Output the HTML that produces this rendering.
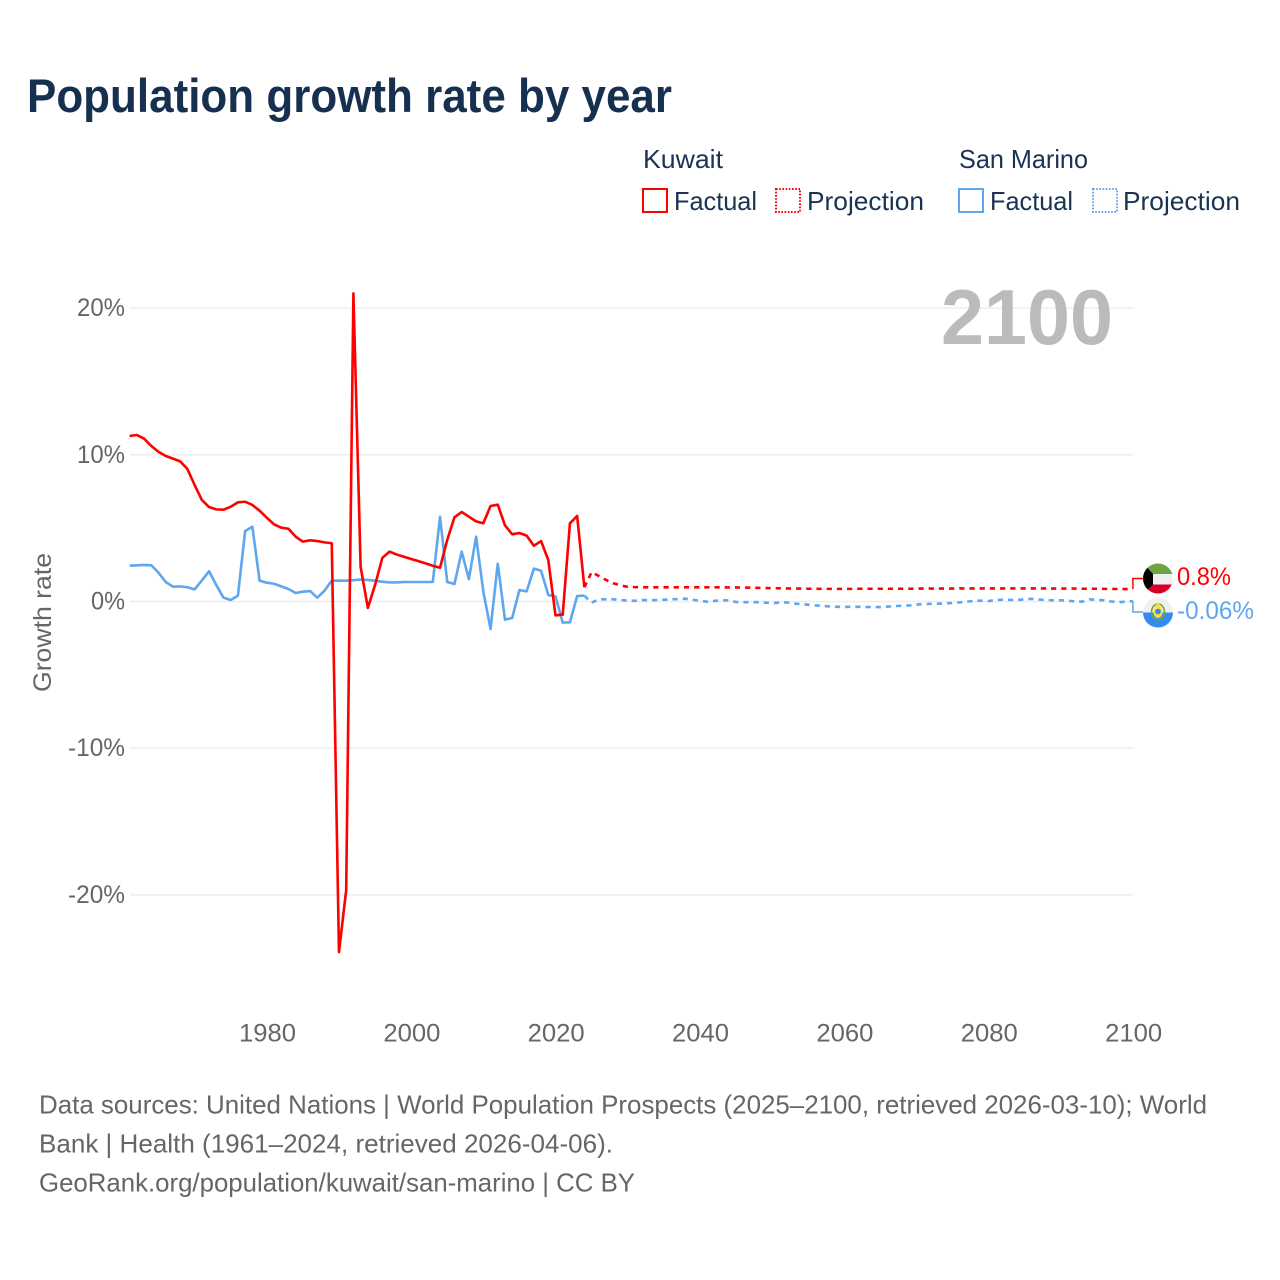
<!DOCTYPE html>
<html lang="en">
<head>
<meta charset="utf-8">
<title>Population growth rate by year</title>
<style>
html,body{margin:0;padding:0;background:#fff;}
svg{display:block;}
text{font-family:"Liberation Sans",sans-serif;}
</style>
</head>
<body>
<svg id="chart" xmlns="http://www.w3.org/2000/svg" width="1280" height="1280" viewBox="0 0 1280 1280">
  <rect width="1280" height="1280" fill="#ffffff"/>
  <text x="27" y="112" font-size="47" font-weight="700" fill="#17304f" textLength="645" lengthAdjust="spacingAndGlyphs">Population growth rate by year</text>

  <g font-size="26" fill="#1a3352">
    <text x="643" y="168" textLength="80" lengthAdjust="spacingAndGlyphs">Kuwait</text>
    <text x="959" y="168" textLength="129" lengthAdjust="spacingAndGlyphs">San Marino</text>
    <rect x="643" y="189" width="24" height="23" fill="none" stroke="#ff0000" stroke-width="2"/>
    <text x="674" y="210" textLength="83" lengthAdjust="spacingAndGlyphs">Factual</text>
    <rect x="776" y="189" width="24" height="23" fill="none" stroke="#ff0000" stroke-width="2" stroke-dasharray="1.6 1.6"/>
    <text x="807" y="210" textLength="117" lengthAdjust="spacingAndGlyphs">Projection</text>
    <rect x="959" y="189" width="24" height="23" fill="none" stroke="#5ea6ee" stroke-width="2"/>
    <text x="990" y="210" textLength="83" lengthAdjust="spacingAndGlyphs">Factual</text>
    <rect x="1093" y="189" width="24" height="23" fill="none" stroke="#5ea6ee" stroke-width="2" stroke-dasharray="1.6 1.6"/>
    <text x="1123" y="210" textLength="117" lengthAdjust="spacingAndGlyphs">Projection</text>
  </g>

  <g id="grid"></g>
  <g id="yticks" font-size="25" fill="#666666"></g>
  <g id="xticks" font-size="25" fill="#666666"></g>
  <text transform="translate(51 622.5) rotate(-90)" text-anchor="middle" font-size="25" fill="#666666" textLength="139" lengthAdjust="spacingAndGlyphs">Growth rate</text>

  <text x="941" y="344" font-size="78" font-weight="700" fill="#bbbbbb" textLength="172" lengthAdjust="spacingAndGlyphs">2100</text>

  <g id="series"></g>
  <g id="connectors"></g>

  <defs>
    <clipPath id="clip-kw"><circle cx="1158" cy="578.5" r="15"/></clipPath>
    <clipPath id="clip-sm"><circle cx="1158" cy="612.5" r="15"/></clipPath>
  </defs>
  <g clip-path="url(#clip-kw)">
    <rect x="1143" y="563" width="30" height="11" fill="#6da544"/>
    <rect x="1143" y="574" width="30" height="10.5" fill="#f0f0f0"/>
    <rect x="1143" y="584.5" width="30" height="10" fill="#d80027"/>
    <polygon points="1143,563 1143,594 1153,584.5 1153,574" fill="#000000"/>
  </g>
  <g clip-path="url(#clip-sm)">
    <rect x="1143" y="597" width="30" height="15.5" fill="#f0f0f0"/>
    <rect x="1143" y="612.5" width="30" height="15.5" fill="#338af3"/>
    <ellipse cx="1158" cy="612" rx="6.5" ry="8" fill="none" stroke="#6da544" stroke-width="1.6"/>
    <ellipse cx="1158" cy="612" rx="4.6" ry="6" fill="#ffda44"/>
    <circle cx="1158" cy="611.5" r="2.8" fill="#338af3"/>
    <polygon points="1158,602 1161,606.5 1155,606.5" fill="#ffda44"/>
  </g>

  <text id="label-kw" x="1177" y="585" font-size="25" fill="#ff0000" textLength="54" lengthAdjust="spacingAndGlyphs"></text>
  <text id="label-sm" x="1177" y="619" font-size="25" fill="#5ea6ee" textLength="77" lengthAdjust="spacingAndGlyphs"></text>

  <g font-size="26" fill="#666666">
    <text x="39" y="1113.5" textLength="1168" lengthAdjust="spacingAndGlyphs">Data sources: United Nations | World Population Prospects (2025–2100, retrieved 2026-03-10); World</text>
    <text x="39" y="1152.5" textLength="574" lengthAdjust="spacingAndGlyphs">Bank | Health (1961–2024, retrieved 2026-04-06).</text>
    <text x="39" y="1191.5" textLength="596" lengthAdjust="spacingAndGlyphs">GeoRank.org/population/kuwait/san-marino | CC BY</text>
  </g>
</svg>

<script>
const factualStartYear = 1961;
const projectionStartYear = 2024;
const xTickYears = [1980, 2000, 2020, 2040, 2060, 2080, 2100];
const yTickValues = [20, 10, 0, -10, -20];
const kuwaitFactual = [
  11.28, 11.35, 11.1, 10.6, 10.2, 9.92, 9.74, 9.55, 9.03, 7.94,
  6.92, 6.44, 6.28, 6.26, 6.46, 6.76, 6.8, 6.58, 6.19, 5.71,
  5.26, 5.03, 4.96, 4.42, 4.08, 4.17, 4.12, 4.03, 3.97, -23.9,
  -19.67, 21.0, 2.35, -0.44, 1.12, 2.97, 3.4, 3.2, 3.05, 2.9,
  2.75, 2.6, 2.44, 2.3, 4.2, 5.74, 6.1, 5.78, 5.46, 5.33,
  6.51, 6.6, 5.19, 4.58, 4.67, 4.49, 3.8, 4.12, 2.83, -0.94,
  -0.9, 5.33, 5.83, 0.97
];
const sanMarinoFactual = [
  2.44, 2.47, 2.49, 2.47, 1.96, 1.33, 1.01, 1.03, 0.97, 0.83,
  1.44, 2.06, 1.12, 0.26, 0.1, 0.4, 4.8, 5.1, 1.42, 1.28,
  1.21, 1.03, 0.85, 0.58, 0.67, 0.71, 0.26, 0.74, 1.42, 1.43,
  1.42, 1.45, 1.5, 1.47, 1.42, 1.35, 1.3, 1.3, 1.33, 1.33,
  1.33, 1.33, 1.33, 5.78, 1.33, 1.19, 3.4, 1.53, 4.42, 0.67,
  -1.87, 2.58, -1.24, -1.12, 0.78, 0.69, 2.24, 2.1, 0.44, 0.35,
  -1.44, -1.42, 0.37, 0.4
];
const kuwaitProjection = [
  0.97, 2.0, 1.74, 1.47, 1.24, 1.1, 1.0, 0.98, 0.97, 0.97,
  0.97, 0.97, 0.97, 0.97, 0.97, 0.97, 0.97, 0.97, 0.97, 0.97,
  0.96, 0.96, 0.95, 0.94, 0.93, 0.92, 0.91, 0.9, 0.89, 0.88,
  0.88, 0.87, 0.87, 0.86, 0.86, 0.86, 0.86, 0.86, 0.87, 0.87,
  0.87, 0.87, 0.87, 0.87, 0.87, 0.87, 0.88, 0.88, 0.88, 0.88,
  0.88, 0.88, 0.89, 0.89, 0.89, 0.89, 0.89, 0.89, 0.89, 0.89,
  0.89, 0.89, 0.89, 0.89, 0.89, 0.88, 0.88, 0.88, 0.88, 0.87,
  0.87, 0.87, 0.86, 0.86, 0.85, 0.85, 0.85
];
const sanMarinoProjection = [
  0.4, -0.08, 0.15, 0.15, 0.15, 0.1, 0.06, 0.05, 0.1, 0.08,
  0.1, 0.12, 0.15, 0.17, 0.19, 0.12, 0.05, -0.01, 0.04, 0.09,
  0.07, -0.03, -0.05, -0.05, -0.05, -0.08, -0.1, -0.08, -0.06, -0.14,
  -0.18, -0.22, -0.27, -0.3, -0.34, -0.36, -0.37, -0.36, -0.36, -0.37,
  -0.38, -0.38, -0.35, -0.31, -0.29, -0.27, -0.21, -0.18, -0.16, -0.15,
  -0.13, -0.1, -0.06, -0.01, 0.04, 0.06, 0.03, 0.1, 0.12, 0.11,
  0.1, 0.15, 0.18, 0.13, 0.1, 0.08, 0.08, 0.06, 0.0, -0.01,
  0.15, 0.11, 0.08, 0.0, -0.04, -0.02, 0.03
];
const kuwaitLabel = "0.8%";
const sanMarinoLabel = "-0.06%";

const NS = "http://www.w3.org/2000/svg";
const RED = "#ff0000";
const BLUE = "#5ea6ee";

function xScale(year) {
  return 266.8 + (year - 1980) * 7.2175;
}
function yScale(value) {
  return 601.5 - value * 14.67;
}
function toPoints(values, startYear) {
  return values.map(function (v, i) {
    return xScale(startYear + i).toFixed(2) + "," + yScale(v).toFixed(2);
  }).join(" ");
}
function make(tag, attrs, parent) {
  const el = document.createElementNS(NS, tag);
  Object.keys(attrs).forEach(function (k) { el.setAttribute(k, attrs[k]); });
  parent.appendChild(el);
  return el;
}
function drawLine(values, startYear, color, dashed, name) {
  const attrs = { points: toPoints(values, startYear), fill: "none", stroke: color, "stroke-width": 2.6, "stroke-linejoin": "round" };
  if (dashed) { attrs["stroke-dasharray"] = "5.2 5"; }
  const el = make("polyline", attrs, document.getElementById("series"));
  
  
  return el;
}

const gridGroup = document.getElementById("grid");
const yTickGroup = document.getElementById("yticks");
yTickValues.forEach(function (v) {
  const line = make("line", { x1: 130, x2: 1133, y1: yScale(v), y2: yScale(v), stroke: "#eeeeee", "stroke-width": 1.5 }, gridGroup);
  
  
  const label = v + "%";
  const w = label.length === 2 ? 34 : (label.length === 3 ? 48 : 57);
  const t = make("text", { x: 125, y: yScale(v) + 8, "text-anchor": "end", textLength: w, lengthAdjust: "spacingAndGlyphs" }, yTickGroup);
  
  
  t.textContent = label;
});

const xTickGroup = document.getElementById("xticks");
xTickYears.forEach(function (yr) {
  const t = make("text", { x: xScale(yr) + 0.7, y: 1041.5, "text-anchor": "middle", textLength: 57, lengthAdjust: "spacingAndGlyphs" }, xTickGroup);
  
  
  t.textContent = String(yr);
});

drawLine(sanMarinoFactual, factualStartYear, BLUE, false, "san-marino-factual-line");
drawLine(kuwaitFactual, factualStartYear, RED, false, "kuwait-factual-line");
drawLine(sanMarinoProjection, projectionStartYear, BLUE, true, "san-marino-projection-line");
drawLine(kuwaitProjection, projectionStartYear, RED, true, "kuwait-projection-line");

const connectorGroup = document.getElementById("connectors");
function drawConnector(values, labelY, color, name) {
  const endX = xScale(2100);
  const endY = yScale(values[values.length - 1]);
  const el = make("polyline", { points: endX + "," + endY + " " + endX + "," + labelY + " 1143," + labelY, fill: "none", stroke: color, "stroke-width": 1.5 }, connectorGroup);
  
  
}
drawConnector(kuwaitProjection, 578.5, RED, "kuwait-label-connector");
drawConnector(sanMarinoProjection, 612, BLUE, "san-marino-label-connector");

document.getElementById("label-kw").textContent = kuwaitLabel;
document.getElementById("label-sm").textContent = sanMarinoLabel;
</script>
</body>
</html>
